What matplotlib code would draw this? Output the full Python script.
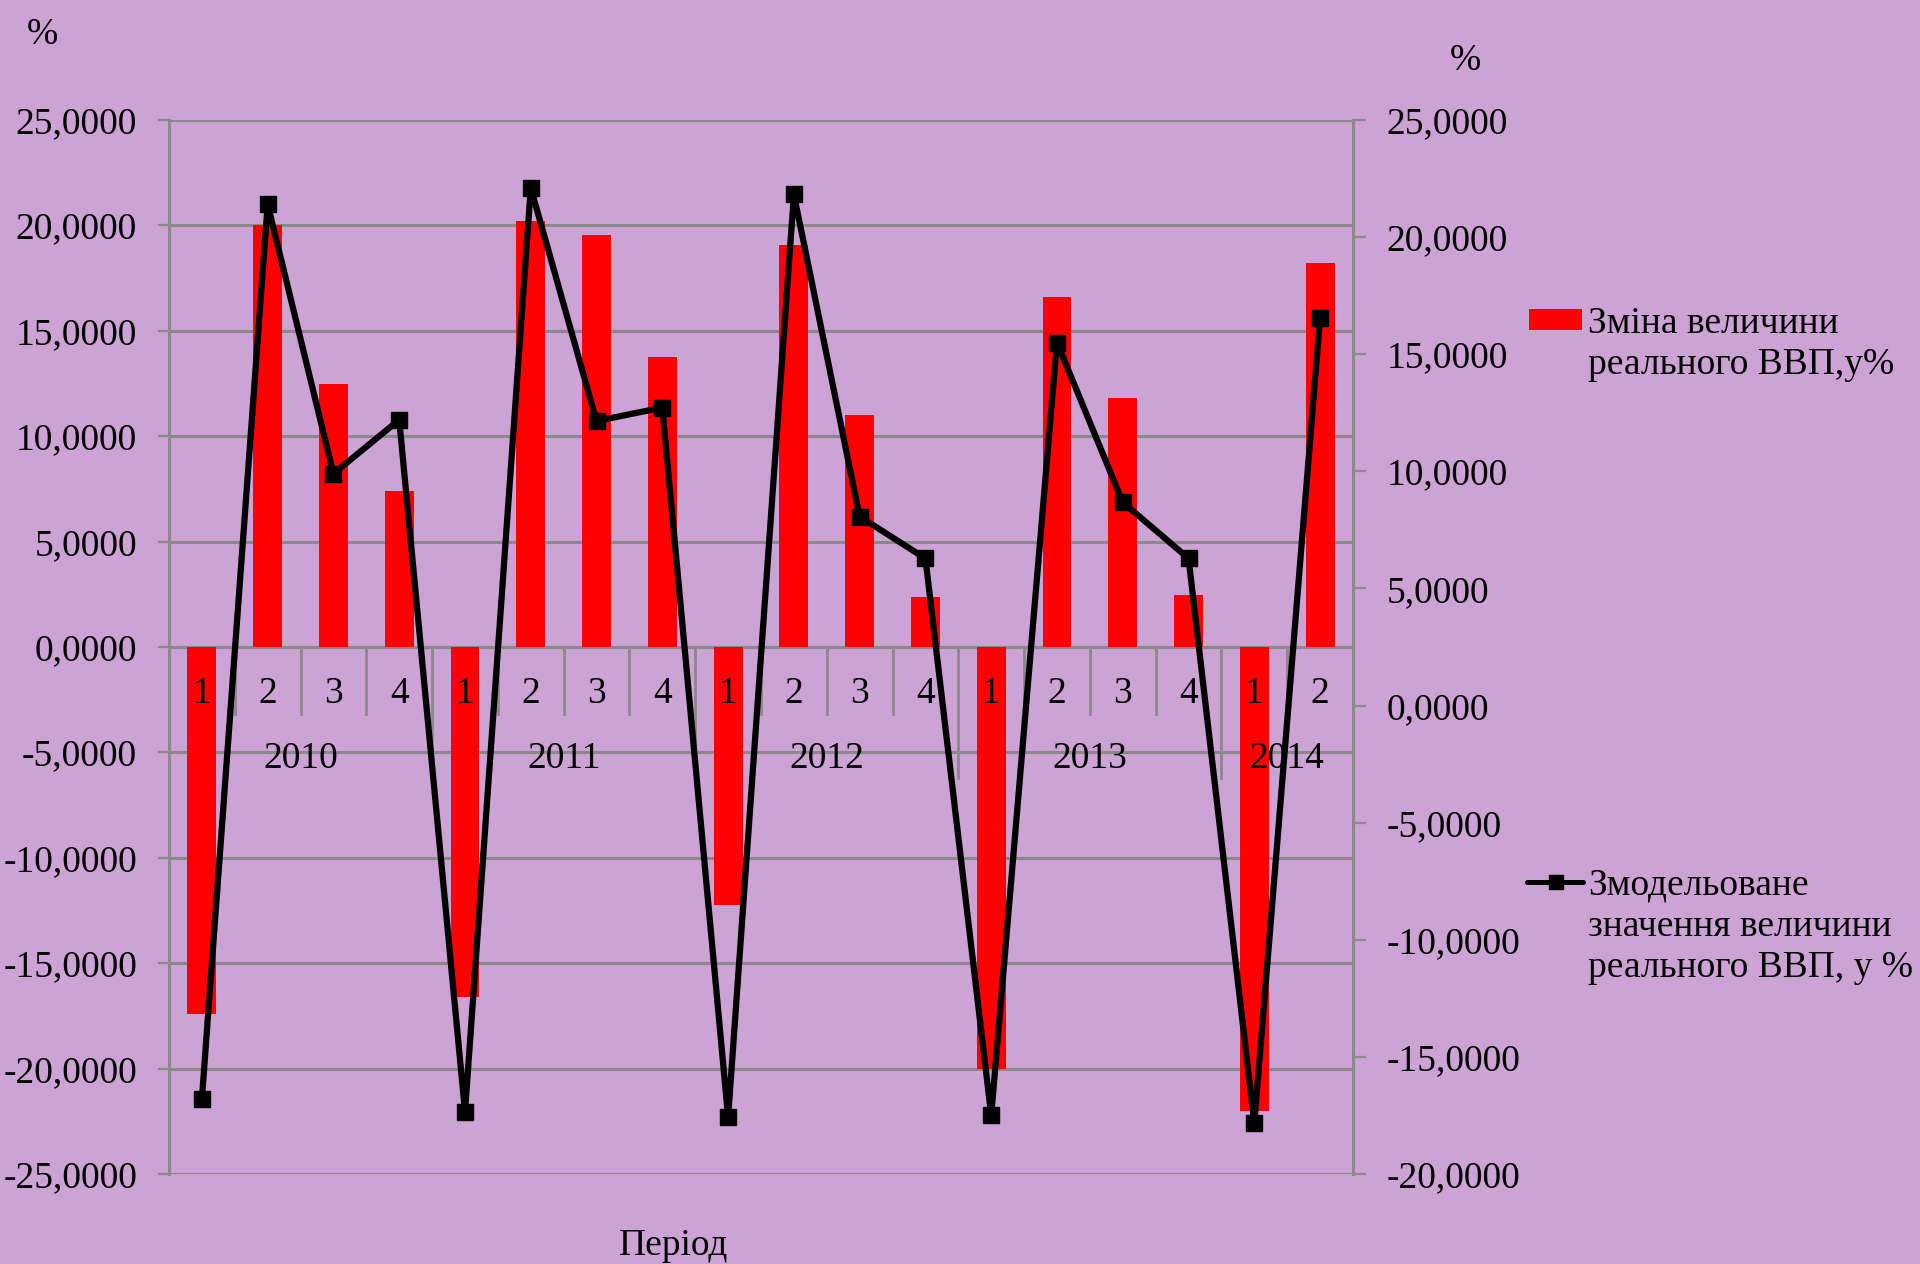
import matplotlib
matplotlib.use("Agg")
import matplotlib.pyplot as plt
from matplotlib.lines import Line2D
from matplotlib.patches import Rectangle
from matplotlib.ticker import FuncFormatter, MultipleLocator

# data
years = ["2010", "2011", "2012", "2013", "2014"]
quarters = ["1", "2", "3", "4", "1", "2", "3", "4", "1", "2", "3", "4",
            "1", "2", "3", "4", "1", "2"]
real_gdp_change = [-17.4, 20.0, 12.5, 7.4, -16.6, 20.2, 19.55, 13.75,
                   -12.25, 19.05, 11.0, 2.35, -20.0, 16.6, 11.8, 2.45,
                   -22.0, 18.2]
modelled_gdp = [-16.8, 21.4, 9.9, 12.2, -17.35, 22.1, 12.15, 12.72,
                -17.58, 21.82, 8.07, 6.28, -17.5, 15.5, 8.68, 6.28,
                -17.82, 16.54]
bar_label = ["Зміна величини", "реального ВВП,у%"]
line_label = ["Змодельоване", "значення величини", "реального ВВП, у %"]

BG = "#CDA2D4"
GRID = "#898989"
FS = 27

plt.rcParams["font.family"] = ["Liberation Serif", "DejaVu Serif"]

W, H = 1920, 1264
fig = plt.figure(figsize=(W / 100, H / 100), dpi=100, facecolor=BG)


def fx(px):
    return px / W


def fy(py):
    return 1 - py / H


left, right, top, bottom = 169, 1353, 120, 1174
ax = fig.add_axes([fx(left), fy(bottom), fx(right - left), (bottom - top) / H])
ax.set_facecolor(BG)

x = list(range(len(quarters)))
ax.bar(x, real_gdp_change, width=0.44, color="#FF0000", zorder=2)
ax.set_xlim(-0.5, len(quarters) - 0.5)
ax.set_ylim(-25, 25)
ax.yaxis.set_major_locator(MultipleLocator(5))
ax.set_axisbelow(True)
ax.grid(axis="y", color=GRID, linewidth=2.2)
ax.set_xticks([])

fmt = FuncFormatter(lambda v, p: f"{v:.4f}".replace(".", ","))
ax.yaxis.set_major_formatter(fmt)
ax.tick_params(axis="y", labelsize=FS, length=8, width=1.6, color=GRID, pad=15)

for side in ["top", "bottom", "right"]:
    ax.spines[side].set_visible(False)
ax.spines["left"].set_color(GRID)
ax.spines["left"].set_linewidth(2.2)

# two-level category axis along the zero line
for i, q in enumerate(quarters):
    ax.text(i, -2.66, q, ha="center", va="baseline", fontsize=FS, zorder=3)
for b in range(1, len(quarters)):
    low = -6.2 if b % 4 == 0 else -3.16
    ax.plot([b - 0.5, b - 0.5], [0, low], color=GRID, linewidth=2, zorder=1)
for k, yr in enumerate(years):
    first = k * 4
    last = min(first + 3, len(quarters) - 1)
    ax.text((first + last) / 2, -5.74, yr, ha="center", va="baseline",
            fontsize=FS, zorder=3)

ax2 = ax.twinx()
ax2.plot(x, modelled_gdp, color="black", linewidth=4.5, marker="s",
         markersize=11, zorder=3)
ax2.set_ylim(-20, 25)
ax2.yaxis.set_major_locator(MultipleLocator(5))
ax2.yaxis.set_major_formatter(fmt)
ax2.tick_params(axis="y", labelsize=FS, length=9, width=1.6, color=GRID, pad=15)
for side in ["top", "bottom", "left"]:
    ax2.spines[side].set_visible(False)
ax2.spines["right"].set_color(GRID)
ax2.spines["right"].set_linewidth(2.2)

fig.text(fx(42), fy(44), "%", fontsize=FS, ha="center", va="baseline")
fig.text(fx(1465), fy(70), "%", fontsize=FS, ha="center", va="baseline")
fig.text(fx(674), fy(1255), "Період", fontsize=FS, ha="center", va="baseline")

# legend, drawn by hand so the key sits on the first text line
fig.add_artist(Rectangle((fx(1529), fy(330)), fx(53), 21 / H,
                         facecolor="#FF0000", edgecolor="none"))
for j, txt in enumerate(bar_label):
    fig.text(fx(1588), fy(333 + 41 * j), txt, fontsize=FS, va="baseline")

fig.add_artist(Line2D([fx(1527), fx(1583)], [fy(882), fy(882)],
                      color="black", linewidth=3.6, solid_capstyle="round"))
fig.add_artist(Line2D([fx(1556)], [fy(882)], color="black", marker="s",
                      markersize=10.5, linestyle="none"))
for j, txt in enumerate(line_label):
    fig.text(fx(1588), fy(895 + 41 * j), txt, fontsize=FS, va="baseline")

fig.savefig("out.png", dpi=100, facecolor=BG)
